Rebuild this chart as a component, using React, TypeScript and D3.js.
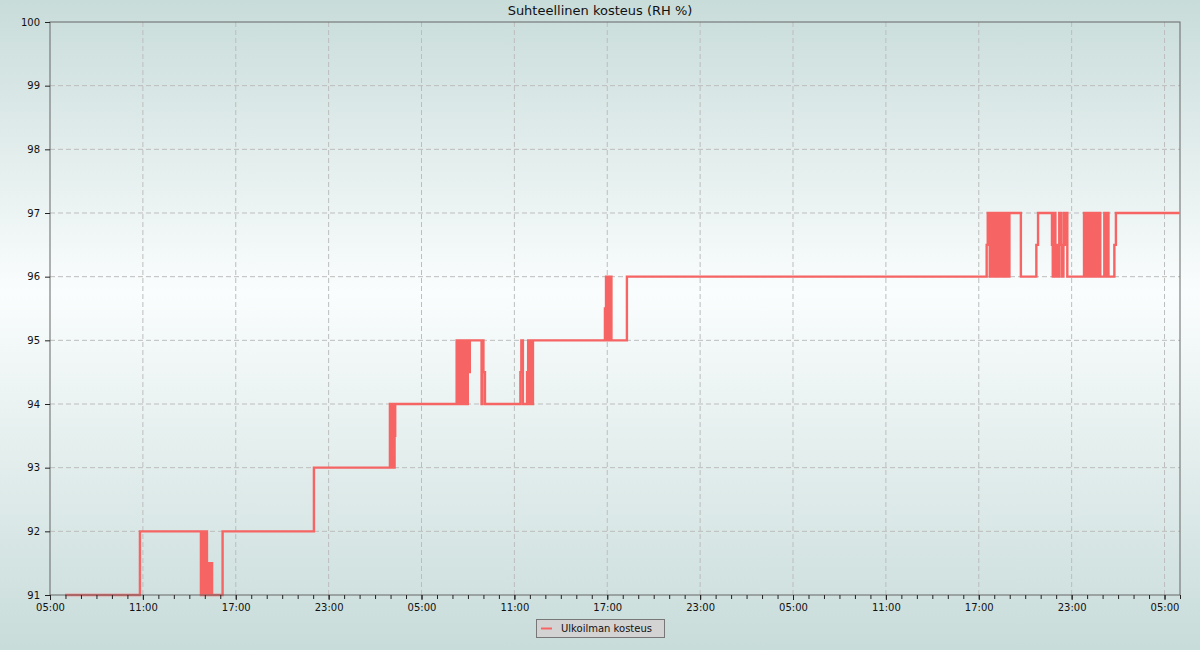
import React, { useEffect, useRef } from "react";
import * as d3 from "d3";

// Hours elapsed since 05:00 of the first day, and relative humidity readings (step series)
const hoursFromStart: number[] = [
  0.97, 5.81,
  9.75, 9.85, 9.94, 10.04, 10.14, 10.21, 10.3, 10.39, 10.47, 11.15,
  17.05,
  21.96, 22.04, 22.12, 22.2, 22.26, 22.3,
  26.27, 26.36, 26.45, 26.54, 26.63, 26.72, 26.81, 26.9, 26.99, 27.05, 27.12,
  27.88, 27.93, 28.0, 28.1,
  30.39, 30.45, 30.55,
  30.82, 30.89, 30.97, 31.05, 31.13, 31.2,
  35.85, 35.92, 36.0, 36.07, 36.15, 36.23, 36.27, 37.27,
  60.51, 60.58, 60.71, 60.84, 60.97, 61.1, 61.23, 61.37, 61.42, 61.46,
  61.52, 61.62, 61.72, 61.82, 61.9, 61.98, 62.72,
  63.72, 63.83,
  64.73, 64.78, 64.86, 64.95, 65.05, 65.12, 65.2, 65.3, 65.37,
  65.47, 65.55, 65.62, 65.72,
  66.8, 66.88, 66.96, 67.04, 67.12, 67.2, 67.28, 67.36, 67.44, 67.52, 67.6, 67.65,
  67.72, 67.85,
  68.11, 68.2, 68.28, 68.38,
  68.76, 68.86, 72.95,
];
const rhValues: number[] = [
  91, 92,
  91, 92, 91, 92, 91, 91.5, 91, 91.5, 91, 92,
  93,
  94, 93, 94, 93, 93.5, 94,
  95, 94, 95, 94, 95, 94, 95, 94, 95, 94.5, 95,
  94, 95, 94.5, 94,
  94.5, 95, 94,
  94.5, 95, 94, 95, 94, 95,
  95.5, 96, 95, 96, 95, 96, 95, 96,
  96.5, 97, 96, 97, 96, 97, 96, 97, 96.5, 97,
  96, 97, 96, 97, 96, 97, 96,
  96.5, 97,
  96.5, 96, 97, 96, 96.5, 96, 97, 96.5, 96,
  97, 96.5, 97, 96,
  97, 96, 97, 96, 97, 96, 97, 96, 97, 96, 97, 96,
  97, 96,
  97, 96, 97, 96,
  96.5, 97, 97,
];

const chartTitle = "Suhteellinen kosteus (RH %)";
const seriesName = "Ulkoilman kosteus";
const yTicks = [91, 92, 93, 94, 95, 96, 97, 98, 99, 100];
const majorTickHours = d3.range(0, 73, 6);
const minorTickHours = d3.range(0, 74, 1);
const totalHours = 73;

const W = 1200;
const H = 650;
const M = { left: 50, right: 20, top: 22, bottom: 55 };
const LINE = "#f66464";
const FONT = "DejaVu Sans, sans-serif";

export default function App() {
  const ref = useRef<SVGSVGElement>(null);

  useEffect(() => {
    const svg = d3.select(ref.current);
    svg.selectAll("*").remove();

    const base = new Date(2024, 0, 1, 5, 0, 0).getTime();
    const toDate = (h: number) => new Date(base + h * 3600e3);

    const x = d3
      .scaleTime()
      .domain([toDate(0), toDate(totalHours)])
      .range([M.left, W - M.right]);
    const y = d3.scaleLinear().domain([91, 100]).range([H - M.bottom, M.top]);

    const defs = svg.append("defs");
    const grad = defs
      .append("linearGradient")
      .attr("id", "bg")
      .attr("x1", 0)
      .attr("y1", 0)
      .attr("x2", 0)
      .attr("y2", 1);
    grad.append("stop").attr("offset", "0%").attr("stop-color", "#c8dcda");
    grad.append("stop").attr("offset", "45%").attr("stop-color", "#fafdfd");
    grad.append("stop").attr("offset", "100%").attr("stop-color", "#c8dcda");

    svg.append("rect").attr("width", W).attr("height", H).attr("fill", "url(#bg)");

    // grid
    const grid = svg.append("g");
    grid
      .selectAll("line.h")
      .data(yTicks.filter((t) => t !== 91 && t !== 100))
      .join("line")
      .attr("x1", M.left)
      .attr("x2", W - M.right)
      .attr("y1", (d) => y(d))
      .attr("y2", (d) => y(d))
      .attr("stroke", "#bdbdbd")
      .attr("stroke-dasharray", "5,3");
    grid
      .selectAll("line.v")
      .data(majorTickHours.filter((h) => h > 0))
      .join("line")
      .attr("x1", (d) => x(toDate(d)))
      .attr("x2", (d) => x(toDate(d)))
      .attr("y1", M.top)
      .attr("y2", H - M.bottom)
      .attr("stroke", "#bdbdbd")
      .attr("stroke-dasharray", "5,3");

    // data line
    const pts = hoursFromStart.map((h, i) => [x(toDate(h)), y(rhValues[i])] as [number, number]);
    const line = d3.line().curve(d3.curveStepAfter);
    svg
      .append("path")
      .attr("d", line(pts))
      .attr("fill", "none")
      .attr("stroke", LINE)
      .attr("stroke-width", 2.4);

    // frame
    svg
      .append("rect")
      .attr("x", M.left)
      .attr("y", M.top)
      .attr("width", W - M.left - M.right)
      .attr("height", H - M.top - M.bottom)
      .attr("fill", "none")
      .attr("stroke", "#666")
      .attr("stroke-width", 1);

    // y axis
    const ya = svg
      .append("g")
      .attr("transform", `translate(${M.left},0)`)
      .call(d3.axisLeft(y).tickValues(yTicks).tickSize(5).tickPadding(5).tickFormat(d3.format("d")));
    ya.select(".domain").remove();
    ya.selectAll("line").attr("stroke", "#222");
    ya.selectAll("text").attr("font-family", FONT).attr("font-size", 10).attr("fill", "#111");

    // x axis minor
    const xm = svg
      .append("g")
      .attr("transform", `translate(0,${H - M.bottom})`)
      .call(
        d3
          .axisBottom(x)
          .tickValues(minorTickHours.map(toDate))
          .tickSize(4)
          .tickFormat(() => "")
      );
    xm.select(".domain").remove();
    xm.selectAll("line").attr("stroke", "#222");

    const xa = svg
      .append("g")
      .attr("transform", `translate(0,${H - M.bottom})`)
      .call(
        d3
          .axisBottom(x)
          .tickValues(majorTickHours.map(toDate))
          .tickSize(5)
          .tickPadding(4)
          .tickFormat((d) => d3.timeFormat("%H:%M")(d as Date))
      );
    xa.select(".domain").remove();
    xa.selectAll("line").attr("stroke", "#222");
    xa.selectAll("text").attr("font-family", FONT).attr("font-size", 10).attr("fill", "#111");

    // title
    svg
      .append("text")
      .attr("x", W / 2)
      .attr("y", 15)
      .attr("text-anchor", "middle")
      .attr("font-family", FONT)
      .attr("font-size", 13)
      .attr("fill", "#111")
      .text(chartTitle);

    // legend
    const lg = svg.append("g");
    lg.append("rect")
      .attr("x", 536.5)
      .attr("y", 619.5)
      .attr("width", 128)
      .attr("height", 18)
      .attr("fill", "#d3d3d3")
      .attr("stroke", "#777");
    lg.append("line")
      .attr("x1", 541)
      .attr("x2", 552)
      .attr("y1", 628.5)
      .attr("y2", 628.5)
      .attr("stroke", LINE)
      .attr("stroke-width", 2);
    lg.append("text")
      .attr("x", 561)
      .attr("y", 632)
      .attr("font-family", FONT)
      .attr("font-size", 10)
      .attr("fill", "#111")
      .text(seriesName);
  }, []);

  return (
    <svg
      ref={ref}
      width={W}
      height={H}
      style={{ position: "absolute", left: 0, top: 0, display: "block" }}
    />
  );
}
